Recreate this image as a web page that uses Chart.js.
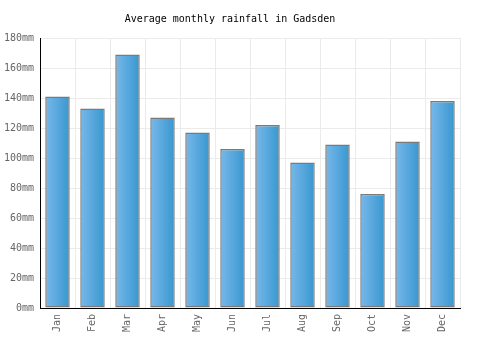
<!DOCTYPE html>
<html>
<head>
<meta charset="utf-8">
<script src="https://cdn.jsdelivr.net/npm/chart.js@4/dist/chart.umd.min.js"></script>
<style>
html,body{margin:0;padding:0;background:#fff;}
#wrap{width:500px;height:350px;}
</style>
</head>
<body>
<div id="wrap"><canvas id="c" width="500" height="350"></canvas></div>
<script>
const months = ["Jan","Feb","Mar","Apr","May","Jun","Jul","Aug","Sep","Oct","Nov","Dec"];
const rainfall = [141, 133, 169, 127, 117, 106, 122, 97, 109, 76, 111, 138];
const yTicks = [0, 20, 40, 60, 80, 100, 120, 140, 160, 180];
const titleText = "Average monthly rainfall in Gadsden";

const FONT = "'DejaVu Sans Mono', 'Liberation Mono', monospace";

const gradientPlugin = {
  id: 'barGradient',
  beforeDatasetsDraw(chart) {
    const meta = chart.getDatasetMeta(0);
    meta.data.forEach((bar) => {
      const w = bar.width;
      const x = bar.x;
      if (!isFinite(x) || !isFinite(w)) return;
      const g = chart.ctx.createLinearGradient(x - w / 2, 0, x + w / 2, 0);
      g.addColorStop(0, '#78b8ea');
      g.addColorStop(1, '#3897d0');
      bar.options = Object.assign({}, bar.options, { backgroundColor: g });
    });
  }
};

new Chart(document.getElementById('c'), {
  type: 'bar',
  data: {
    labels: months,
    datasets: [{
      data: rainfall,
      backgroundColor: '#4aa3dc',
      borderColor: '#7a7a7a',
      borderWidth: 1.5,
      borderSkipped: false,
      barPercentage: 0.7,
      categoryPercentage: 1.0
    }]
  },
  plugins: [gradientPlugin],
  options: {
    responsive: false,
    animation: false,
    devicePixelRatio: 1,
    layout: { padding: { left: 0, right: 40, top: 0, bottom: 0 } },
    plugins: {
      legend: { display: false },
      tooltip: { enabled: false },
      title: {
        display: true,
        text: titleText,
        color: '#000',
        font: { family: FONT, size: 10, weight: 'normal' },
        padding: { top: 13, bottom: 13 }
      }
    },
    scales: {
      x: {
        grid: { color: '#ebebeb', drawTicks: false, offset: true },
        border: { color: '#000', width: 1 },
        ticks: {
          color: '#666',
          font: { family: FONT, size: 10 },
          maxRotation: 90, minRotation: 90,
          padding: 6
        },
        afterFit: (s) => { s.height = 42; }
      },
      y: {
        min: 0, max: 180,
        grid: { color: '#ebebeb', drawTicks: false },
        border: { color: '#000', width: 1 },
        afterBuildTicks: (s) => { s.ticks = yTicks.map(v => ({ value: v })); },
        ticks: {
          color: '#666',
          font: { family: FONT, size: 10 },
          padding: 6,
          callback: (v) => v + 'mm'
        },
        afterFit: (s) => { s.width = 40; }
      }
    }
  }
});
</script>
</body>
</html>
